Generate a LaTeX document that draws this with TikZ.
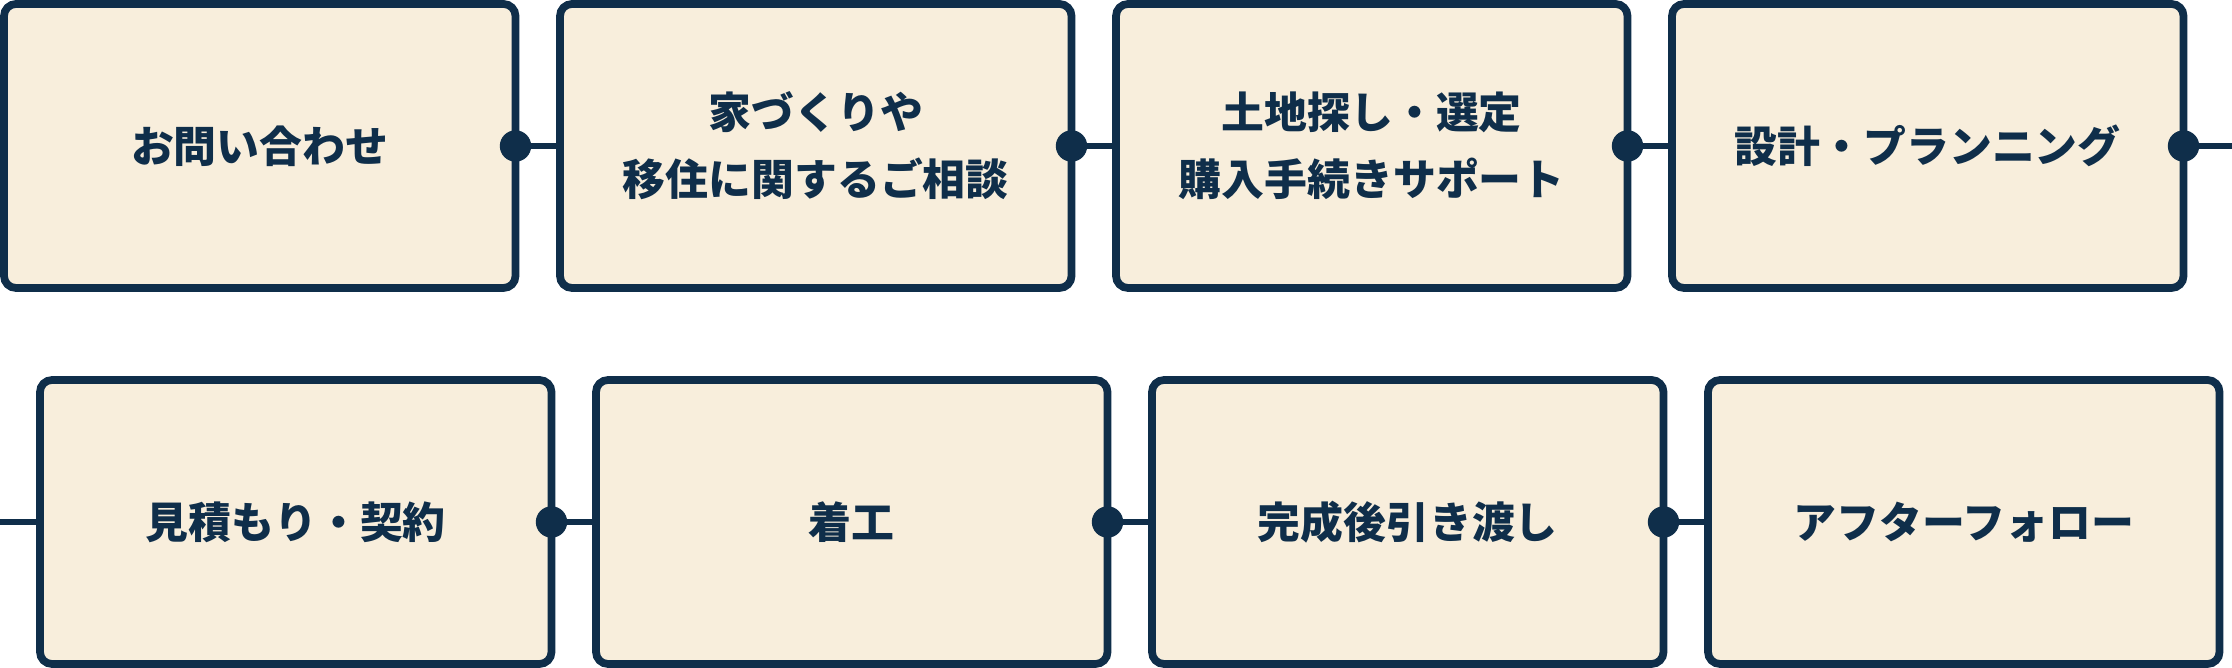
\documentclass[tikz,border=0pt]{standalone}
\usepackage{fontspec}
\setmainfont{Noto Sans CJK JP}
\usetikzlibrary{positioning}
\definecolor{navy}{HTML}{0F2E4A}
\definecolor{cream}{HTML}{F8EEDC}
\tikzset{
	align=center,
	stage/.style={
		draw=navy,
		fill=cream,
		rectangle,
		rounded corners=0.12cm,
		line width=2.2pt,
		outer sep=0pt,
		minimum width=5.115cm,
		minimum height=2.84cm,
		text=navy,
		font=\bfseries\fontsize{12.2}{19}\selectfont
	},
	link/.style={
		draw=navy,
		line width=1.9pt
	},
	joint/.style={
		circle,
		fill=navy,
		inner sep=0pt,
		minimum size=0.314cm
	},
}

\begin{document}
\begin{tikzpicture}
		\useasboundingbox (0,0) rectangle (22.32,-6.68);

		% first row
		\node[stage] (inquiry) at (2.5975,-1.46) {お問い合わせ};
		\node[stage] (consult) at (8.1575,-1.46) {家づくりや\\移住に関するご相談};
		\node[stage] (land)    at (13.7175,-1.46) {土地探し・選定\\購入手続きサポート};
		\node[stage] (design)  at (19.2775,-1.46) {設計・プランニング};

		% second row
		\node[stage] (estimate) at (2.9575,-5.22) {見積もり・契約};
		\node[stage] (build)    at (8.5175,-5.22) {着工};
		\node[stage] (handover) at (14.0775,-5.22) {完成後引き渡し};
		\node[stage] (after)    at (19.6375,-5.22) {アフターフォロー};

		\coordinate (out) at (22.32,-1.46);
		\coordinate (in)  at (0,-5.22);

		\draw[link] (inquiry.east) -- (consult.west);
		\draw[link] (consult.east) -- (land.west);
		\draw[link] (land.east) -- (design.west);
		\draw[link] (design.east) -- (out);
		\draw[link] (in) -- (estimate.west);
		\draw[link] (estimate.east) -- (build.west);
		\draw[link] (build.east) -- (handover.west);
		\draw[link] (handover.east) -- (after.west);

		\foreach \n in {inquiry,consult,land,design,estimate,build,handover}
			\node[joint] at (\n.east) {};

	\end{tikzpicture}
\end{document}
